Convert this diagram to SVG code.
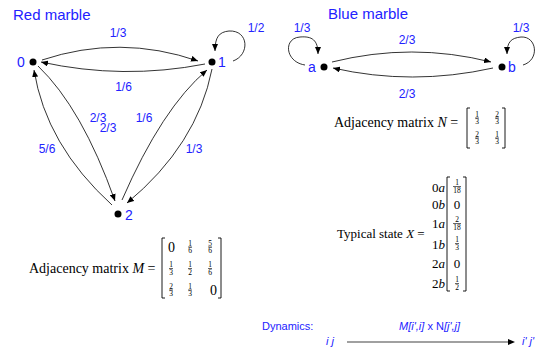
<svg xmlns="http://www.w3.org/2000/svg" width="536" height="352" viewBox="0 0 536 352">
<defs>
<marker id="ah" markerUnits="userSpaceOnUse" markerWidth="7" markerHeight="6" refX="7" refY="3" orient="auto">
<path d="M0,0 L7,3 L0,6 z" fill="#000"/>
</marker>
</defs>
<style>
.lbl{font-family:"Liberation Sans",Arial,sans-serif;font-size:12px;fill:#2222ff;text-anchor:middle}
.nl{font-family:"Liberation Sans",Arial,sans-serif;font-size:14px;fill:#2222ff}
.ttl{font-family:"Liberation Sans",Arial,sans-serif;font-size:15px;fill:#2222ff}
.dyn{font-family:"Liberation Sans",Arial,sans-serif;font-size:11px;fill:#2222ff}
.e{fill:none;stroke:#000;stroke-width:0.8}
.dot{fill:#000}
.tm{font-family:"Liberation Serif","Times New Roman",serif;font-size:14px;fill:#000}
.tx{font-family:"Liberation Serif","Times New Roman",serif;font-size:13px;fill:#000}
.fr{font-family:"Liberation Serif","Times New Roman",serif;font-size:7.5px;fill:#000;text-anchor:middle}
.bar{stroke:#000;stroke-width:0.6}
.br{fill:none;stroke:#000;stroke-width:0.9}
</style>

<text class="ttl" x="13" y="20">Red marble</text>
<text class="ttl" x="328" y="19">Blue marble</text>

<g id="connectors">
<path class="e" d="M42,60 Q120,34 198,61" marker-end="url(#ah)"/>
<path class="e" d="M205,64 Q123,80 41,62" marker-end="url(#ah)"/>
<path class="e" d="M233,61 C250,55 249,30 229,31 C219,32 215,37 215,51" marker-end="url(#ah)"/>
<path class="e" d="M112,205 Q46,145 34,70" marker-end="url(#ah)"/>
<path class="e" d="M38,66 Q82,108 115,201" marker-end="url(#ah)"/>
<path class="e" d="M212,69 Q197,145 127,203" marker-end="url(#ah)"/>
<path class="e" d="M122,200 Q162,108 207,70" marker-end="url(#ah)"/>
<path class="e" d="M332,62 Q412,42 491,62" marker-end="url(#ah)"/>
<path class="e" d="M493,68 Q412,86 333,68" marker-end="url(#ah)"/>
<path class="e" d="M305,65 C285,62 283,38 300,37 C312,36 318,40 318,54" marker-end="url(#ah)"/>
<path class="e" d="M523,65 C540,60 537,36 521,37 C511,38 507,42 507,54" marker-end="url(#ah)"/>
<text class="lbl" x="98" y="121.5">2/3</text>
<text class="lbl" x="108" y="132">2/3</text>
<text class="lbl" x="118" y="37">1/3</text>
<text class="lbl" x="123.5" y="91">1/6</text>
<text class="lbl" x="256" y="32">1/2</text>
<text class="lbl" x="144" y="121.5">1/6</text>
<text class="lbl" x="47" y="153">5/6</text>
<text class="lbl" x="194" y="153">1/3</text>
<text class="lbl" x="302" y="32">1/3</text>
<text class="lbl" x="521" y="32">1/3</text>
<text class="lbl" x="407" y="44">2/3</text>
<text class="lbl" x="407" y="98">2/3</text>
</g>

<g id="node0"><circle class="dot" cx="33" cy="62" r="3.5"/><text class="nl" x="17" y="67">0</text></g>
<g id="node1"><circle class="dot" cx="212" cy="62" r="3.5"/><text class="nl" x="218" y="67">1</text></g>
<g id="node2"><circle class="dot" cx="118" cy="214" r="3.5"/><text class="nl" x="125" y="220">2</text></g>
<g id="nodea"><circle class="dot" cx="324" cy="67" r="3.5"/><text class="nl" x="308" y="72">a</text></g>
<g id="nodeb"><circle class="dot" cx="502" cy="67" r="3.5"/><text class="nl" x="508" y="72">b</text></g>

<g id="matrixM">
<text class="tm" x="29" y="273">Adjacency matrix <tspan font-style="italic">M</tspan> =</text>
<path class="br" d="M165,238 H162 V298 H165"/>
<path class="br" d="M218,238 H221 V298 H218"/>
<text class="tm" x="171.5" y="252" text-anchor="middle">0</text>
<text class="fr" x="190" y="245.5">1</text><line class="bar" x1="188" y1="247" x2="192" y2="247"/><text class="fr" x="190" y="253">6</text>
<text class="fr" x="210" y="245.5">5</text><line class="bar" x1="208" y1="247" x2="212" y2="247"/><text class="fr" x="210" y="253">6</text>
<text class="fr" x="171" y="267">1</text><line class="bar" x1="169" y1="268.5" x2="173" y2="268.5"/><text class="fr" x="171" y="274.5">3</text>
<text class="fr" x="190" y="267">1</text><line class="bar" x1="188" y1="268.5" x2="192" y2="268.5"/><text class="fr" x="190" y="274.5">2</text>
<text class="fr" x="210" y="267">1</text><line class="bar" x1="208" y1="268.5" x2="212" y2="268.5"/><text class="fr" x="210" y="274.5">6</text>
<text class="fr" x="171" y="288.5">2</text><line class="bar" x1="169" y1="290" x2="173" y2="290"/><text class="fr" x="171" y="296">3</text>
<text class="fr" x="190" y="288.5">1</text><line class="bar" x1="188" y1="290" x2="192" y2="290"/><text class="fr" x="190" y="296">3</text>
<text class="tm" x="213.5" y="295" text-anchor="middle">0</text>
</g>

<g id="matrixN">
<text class="tm" x="334" y="127">Adjacency matrix <tspan font-style="italic">N</tspan> =</text>
<path class="br" d="M470,108 H467 V148 H470"/>
<path class="br" d="M502,108 H505 V148 H502"/>
<text class="fr" x="477" y="116.5">1</text><line class="bar" x1="475" y1="118" x2="479" y2="118"/><text class="fr" x="477" y="124">3</text>
<text class="fr" x="497" y="116.5">2</text><line class="bar" x1="495" y1="118" x2="499" y2="118"/><text class="fr" x="497" y="124">3</text>
<text class="fr" x="477" y="136.5">2</text><line class="bar" x1="475" y1="138" x2="479" y2="138"/><text class="fr" x="477" y="144">3</text>
<text class="fr" x="497" y="136.5">1</text><line class="bar" x1="495" y1="138" x2="499" y2="138"/><text class="fr" x="497" y="144">3</text>
</g>

<g id="stateX">
<text class="tx" x="337" y="238">Typical state <tspan font-style="italic">X</tspan> =</text>
<text class="tx" x="445" y="191.5" text-anchor="end">0<tspan font-style="italic">a</tspan></text>
<text class="tx" x="445" y="209" text-anchor="end">0<tspan font-style="italic">b</tspan></text>
<text class="tx" x="445" y="228" text-anchor="end">1<tspan font-style="italic">a</tspan></text>
<text class="tx" x="445" y="249" text-anchor="end">1<tspan font-style="italic">b</tspan></text>
<text class="tx" x="445" y="268" text-anchor="end">2<tspan font-style="italic">a</tspan></text>
<text class="tx" x="445" y="288" text-anchor="end">2<tspan font-style="italic">b</tspan></text>
<path class="br" d="M450,177 H447 V291 H450"/>
<path class="br" d="M463,177 H466 V291 H463"/>
<text class="fr" x="457" y="185">1</text><line class="bar" x1="453" y1="186.5" x2="461" y2="186.5"/><text class="fr" x="457" y="192.5">18</text>
<text class="tx" x="457" y="209" text-anchor="middle">0</text>
<text class="fr" x="457" y="222">2</text><line class="bar" x1="453" y1="223.5" x2="461" y2="223.5"/><text class="fr" x="457" y="229.5">18</text>
<text class="fr" x="457" y="242">1</text><line class="bar" x1="455" y1="243.5" x2="459" y2="243.5"/><text class="fr" x="457" y="249.5">3</text>
<text class="tx" x="457" y="268" text-anchor="middle">0</text>
<text class="fr" x="457" y="282">1</text><line class="bar" x1="455" y1="283.5" x2="459" y2="283.5"/><text class="fr" x="457" y="289.5">2</text>
</g>

<g id="dynamics">
<text class="dyn" x="262" y="330">Dynamics:</text>
<text class="dyn" x="399" y="330"><tspan font-style="italic">M[i',i]</tspan> x N<tspan font-style="italic">[j',j]</tspan></text>
<text class="dyn" x="326" y="345" font-style="italic">i j</text>
<line x1="347" y1="342" x2="508" y2="342" stroke="#a0a0a0" stroke-width="2"/>
<path d="M508,339 L515,342 L508,345 z" fill="#000"/>
<text class="dyn" x="522" y="345" font-style="italic">i' j'</text>
</g>
</svg>
